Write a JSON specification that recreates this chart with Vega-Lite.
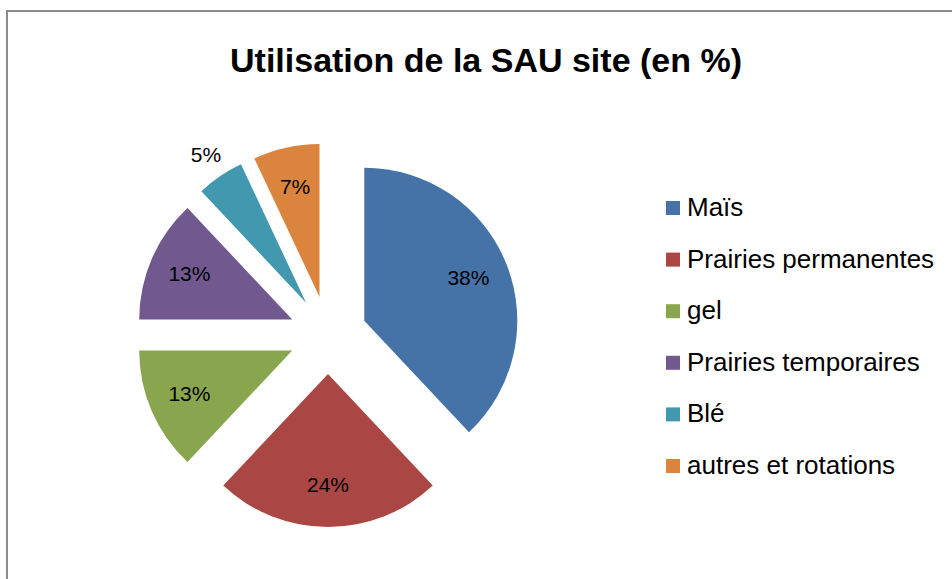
{
  "$schema": "https://vega.github.io/schema/vega-lite/v6.json",
  "width": 960,
  "height": 580,
  "autosize": {"type": "none"},
  "padding": {"left": 7, "top": 11, "right": 0, "bottom": 0},
  "background": "white",
  "config": {"view": {"stroke": "#8c8c8c", "strokeWidth": 2}, "font": "Liberation Sans"},
  "title": {
    "text": "Utilisation de la SAU site (en %)",
    "font": "Liberation Sans",
    "fontSize": 34,
    "fontWeight": "bold",
    "color": "#000000",
    "anchor": "middle",
    "frame": "group",
    "orient": "top",
    "offset": -62,
    "baseline": "alphabetic",
    "dx": -1,
    "dy": 33
  },
  "data": {
    "values": [
      {"culture": "Maïs", "part": 0.38},
      {"culture": "Prairies permanentes", "part": 0.24},
      {"culture": "gel", "part": 0.13},
      {"culture": "Prairies temporaires", "part": 0.13},
      {"culture": "Blé", "part": 0.05},
      {"culture": "autres et rotations", "part": 0.07}
    ]
  },
  "transform": [
    {"window": [{"op": "sum", "field": "part", "as": "fin"}], "frame": [null, 0], "ignorePeers": true},
    {"calculate": "datum.fin - datum.part", "as": "debut"},
    {"calculate": "(datum.debut + datum.fin) / 2", "as": "milieu"},
    {"calculate": "sin(datum.milieu * 2 * PI)", "as": "dx"},
    {"calculate": "cos(datum.milieu * 2 * PI)", "as": "dy"}
  ],
  "encoding": {
    "x": {"field": "dx", "type": "quantitative", "scale": {"domain": [-1, 1], "range": [282, 360]}, "axis": null},
    "y": {"field": "dy", "type": "quantitative", "scale": {"domain": [-1, 1], "range": [363, 285]}, "axis": null}
  },
  "layer": [
    {
      "mark": {"type": "arc", "radius": 153},
      "encoding": {
        "theta": {"field": "debut", "type": "quantitative", "stack": null, "scale": {"domain": [0, 1]}},
        "theta2": {"field": "fin"},
        "color": {
          "field": "culture",
          "type": "nominal",
          "scale": {
            "domain": ["Maïs", "Prairies permanentes", "gel", "Prairies temporaires", "Blé", "autres et rotations"],
            "range": ["#4572A7", "#AA4643", "#89A54E", "#71588F", "#4198AF", "#DB843D"]
          },
          "legend": {
            "title": null,
            "orient": "none",
            "legendX": 653,
            "legendY": 184,
            "symbolType": "square",
            "symbolSize": 196,
            "symbolStrokeWidth": 0,
            "symbolOpacity": 1,
            "labelFontSize": 26,
            "labelFont": "Liberation Sans",
            "labelColor": "#000000",
            "rowPadding": 25.6,
            "labelOffset": 1,
            "padding": 0,
            "labelLimit": 400
          }
        }
      }
    },
    {
      "transform": [{"filter": "datum.part >= 0.06"}],
      "mark": {"type": "text", "radius": 112, "fontSize": 21, "font": "Liberation Sans", "color": "#000000", "align": "center", "baseline": "middle"},
      "encoding": {
        "theta": {"field": "milieu", "type": "quantitative", "stack": null, "scale": {"domain": [0, 1]}},
        "text": {"field": "part", "type": "quantitative", "format": ".0%"}
      }
    },
    {
      "transform": [{"filter": "datum.part < 0.06"}],
      "mark": {"type": "text", "radius": 178, "fontSize": 21, "font": "Liberation Sans", "color": "#000000", "align": "center", "baseline": "middle"},
      "encoding": {
        "theta": {"field": "milieu", "type": "quantitative", "stack": null, "scale": {"domain": [0, 1]}},
        "text": {"field": "part", "type": "quantitative", "format": ".0%"}
      }
    }
  ]
}
